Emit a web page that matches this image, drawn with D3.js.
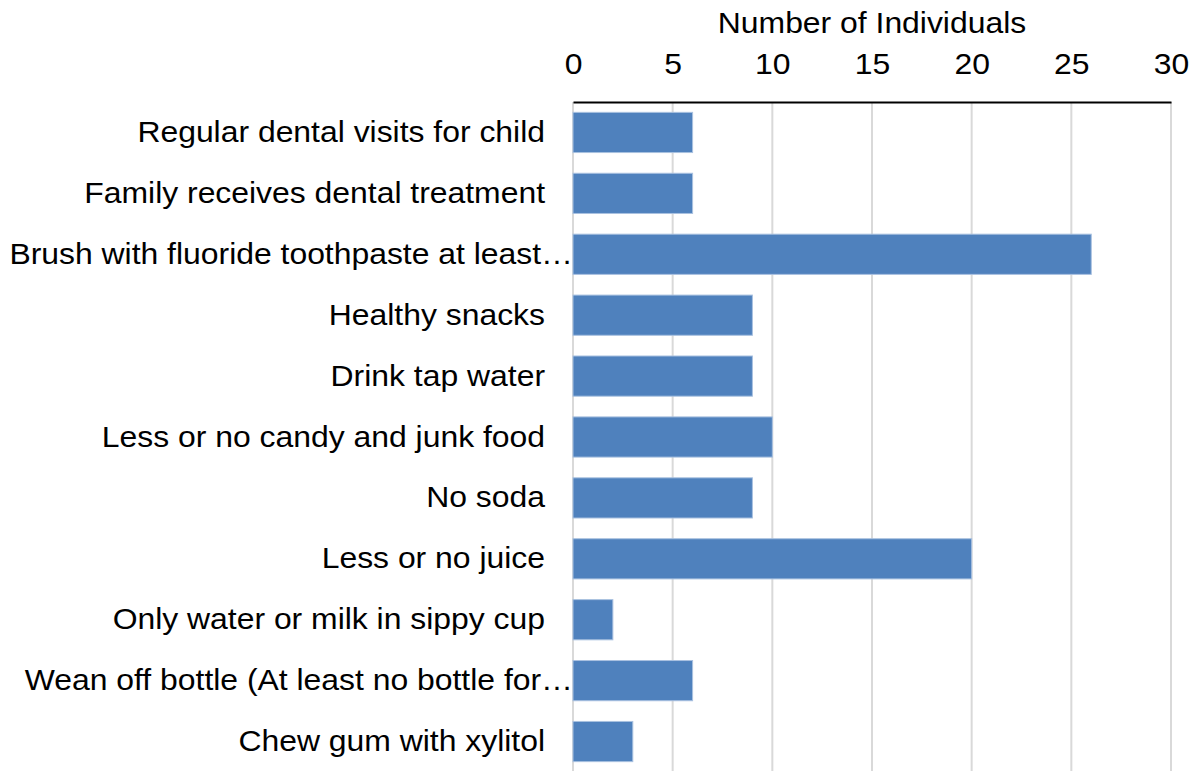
<!DOCTYPE html>
<html>
<head>
<meta charset="utf-8">
<script src="https://cdn.jsdelivr.net/npm/d3@7"></script>
<style>
  body { margin: 0; background: #fff; }
  text { font-family: "Liberation Sans", Arial, sans-serif; fill: #000; }
</style>
</head>
<body>
<div id="chart"></div>
<script>
const categories = [
  "Regular dental visits for child",
  "Family receives dental treatment",
  "Brush with fluoride toothpaste at least…",
  "Healthy snacks",
  "Drink tap water",
  "Less or no candy and junk food",
  "No soda",
  "Less or no juice",
  "Only water or milk in sippy cup",
  "Wean off bottle (At least no bottle for…",
  "Chew gum with xylitol"
];
const values = [6, 6, 26, 9, 9, 10, 9, 20, 2, 6, 3];
const tickValues = [0, 5, 10, 15, 20, 25, 30];
const axisTitle = "Number of Individuals";

const width = 1200;
const height = 771;
const plotLeft = 573, plotRight = 1171, plotTop = 102, plotBottom = 772;
const fontSize = "29px";
const stretch = 1.1; // reference text is a bit wider than Arial

const svg = d3.select("#chart")
  .append("svg")
  .attr("width", width)
  .attr("height", height);

const x = d3.scaleLinear().domain([0, 30]).range([plotLeft, plotRight]);
const y = d3.scaleBand().domain(categories).range([plotTop, plotBottom]).paddingInner(0.34).paddingOuter(0.17);

// gridlines
svg.selectAll("line.grid")
  .data(tickValues)
  .enter()
  .append("line")
  .attr("class", "grid")
  .attr("x1", d => x(d))
  .attr("x2", d => x(d))
  .attr("y1", plotTop)
  .attr("y2", height)
  .attr("stroke", "#d9d9d9")
  .attr("stroke-width", 2);

// bars
svg.selectAll("rect")
  .data(values)
  .enter()
  .append("rect")
  .attr("x", x(0))
  .attr("y", (d, i) => y(categories[i]))
  .attr("width", d => x(d) - x(0))
  .attr("height", y.bandwidth())
  .attr("fill", "#4f81bd")
  .attr("stroke", "#a9c1e0")
  .attr("stroke-width", 1);

// top axis
const axis = d3.axisTop(x).tickValues(tickValues).tickSize(0).tickPadding(28);
const g = svg.append("g").attr("transform", `translate(0,${plotTop})`).call(axis);
g.select(".domain").attr("stroke", "#000").attr("stroke-width", 2);
g.selectAll("text")
  .style("font-size", fontSize)
  .style("font-family", '"Liberation Sans", Arial, sans-serif')
  .attr("fill", "#000")
  .attr("transform", `scale(${stretch},1)`);
g.selectAll(".tick text").attr("x", 0);

svg.append("text")
  .attr("transform", `translate(${(plotLeft + plotRight) / 2},33) scale(${stretch},1)`)
  .attr("text-anchor", "middle")
  .style("font-size", fontSize)
  .text(axisTitle);

// category labels
svg.selectAll("text.cat")
  .data(categories)
  .enter()
  .append("text")
  .attr("class", "cat")
  .attr("transform", d => `translate(${d.endsWith("…") ? 573 : 545},${y(d) + y.bandwidth() / 2}) scale(${stretch},1)`)
  .attr("dy", "0.33em")
  .attr("text-anchor", "end")
  .style("font-size", fontSize)
  .text(d => d);
</script>
</body>
</html>
